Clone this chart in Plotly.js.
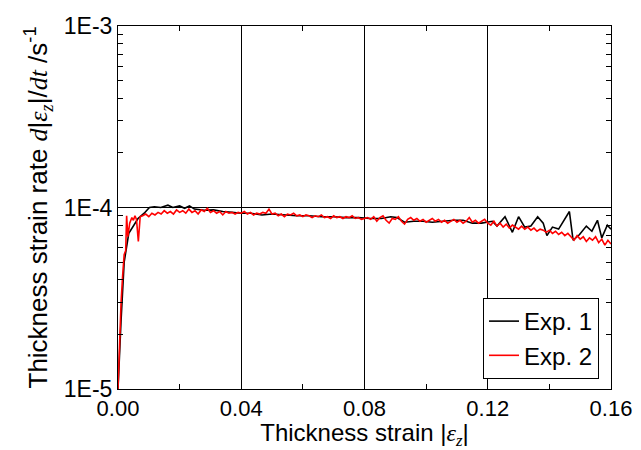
<!DOCTYPE html>
<html>
<head>
<meta charset="utf-8">
<script src="https://cdn.plot.ly/plotly-3.0.1.min.js"></script>
<style>html,body{margin:0;padding:0;background:#fff;}#chart{width:641px;height:450px;}</style>
</head>
<body>
<div id="chart"></div>
<script>
// Exp. 1 (black): thickness strain |eps_z| and strain rate (1/s)
var exp1Strain = [0, 0.0005, 0.001, 0.002, 0.0035, 0.0065, 0.0085, 0.0102, 0.0118, 0.0139, 0.0162, 0.0178, 0.0200, 0.0216, 0.0232, 0.0248,
  0.028, 0.031, 0.034, 0.037, 0.040, 0.043, 0.0467, 0.050, 0.054, 0.058, 0.062, 0.066, 0.070, 0.074, 0.078, 0.082, 0.0855, 0.0885, 0.0905,
  0.093, 0.096, 0.099, 0.102, 0.1055, 0.109, 0.112, 0.115, 0.118,
  0.1200, 0.1215, 0.1230, 0.1256, 0.1280, 0.1300, 0.1320, 0.1340, 0.1362, 0.1380, 0.1392, 0.1410, 0.1430, 0.1465, 0.1477, 0.1498,
  0.1520, 0.1538, 0.1556, 0.1570, 0.1588, 0.1600];
var exp1Rate = [1.0e-5, 1.6e-5, 2.4e-5, 5.0e-5, 7.2e-5, 8.7e-5, 9.3e-5, 1.00e-4, 1.01e-4, 1.00e-4, 1.03e-4, 1.00e-4, 1.02e-4, 0.99e-4, 1.02e-4, 0.98e-4,
  0.965e-4, 0.97e-4, 0.95e-4, 0.94e-4, 0.93e-4, 0.93e-4, 0.91e-4, 0.92e-4, 0.91e-4, 0.90e-4, 0.90e-4, 0.89e-4, 0.89e-4, 0.88e-4, 0.88e-4, 0.87e-4, 0.87e-4, 0.89e-4, 0.88e-4,
  0.83e-4, 0.84e-4, 0.84e-4, 0.83e-4, 0.84e-4, 0.85e-4, 0.85e-4, 0.82e-4, 0.82e-4,
  0.83e-4, 0.84e-4, 0.79e-4, 0.89e-4, 0.73e-4, 0.89e-4, 0.78e-4, 0.79e-4, 0.89e-4, 0.82e-4, 0.70e-4, 0.78e-4, 0.76e-4, 0.95e-4, 0.66e-4, 0.71e-4,
  0.79e-4, 0.74e-4, 0.85e-4, 0.68e-4, 0.80e-4, 0.76e-4];

// Exp. 2 (red)
var exp2Strain = [0, 0.0005, 0.001, 0.0015, 0.002, 0.0025, 0.0028, 0.0032, 0.0038, 0.0045, 0.005, 0.0055, 0.006, 0.0066, 0.0072,
  0.008, 0.009, 0.010, 0.011, 0.012, 0.013, 0.014, 0.015, 0.016, 0.017, 0.018, 0.019, 0.020, 0.021, 0.022, 0.023, 0.024, 0.025, 0.026, 0.027, 0.028, 0.029,
  0.030, 0.031, 0.032, 0.033, 0.034, 0.035, 0.036, 0.037, 0.038, 0.039, 0.040, 0.041, 0.042, 0.043, 0.044, 0.045, 0.046, 0.047, 0.048, 0.049,
  0.050, 0.051, 0.052, 0.053, 0.054, 0.055, 0.056, 0.057, 0.058, 0.059, 0.060, 0.061, 0.062, 0.063, 0.064, 0.065, 0.066, 0.067, 0.068, 0.069,
  0.070, 0.071, 0.072, 0.073, 0.074, 0.075, 0.076, 0.077, 0.078, 0.079, 0.080, 0.081, 0.082, 0.083, 0.084, 0.085, 0.086, 0.087, 0.088, 0.089,
  0.090, 0.091, 0.092, 0.093, 0.094, 0.095, 0.096, 0.097, 0.098, 0.099, 0.100, 0.101, 0.102, 0.103, 0.104, 0.105, 0.106, 0.107, 0.108, 0.109,
  0.110, 0.111, 0.112, 0.113, 0.114, 0.115, 0.116, 0.117, 0.118, 0.119, 0.120, 0.121, 0.122, 0.123, 0.124, 0.125, 0.126, 0.127, 0.128, 0.129,
  0.130, 0.131, 0.132, 0.133, 0.134, 0.135, 0.136, 0.137, 0.138, 0.139, 0.140, 0.141, 0.142, 0.143, 0.144, 0.145, 0.146, 0.147, 0.148, 0.149,
  0.150, 0.151, 0.152, 0.153, 0.154, 0.155, 0.156, 0.157, 0.158, 0.159, 0.160];
var exp2RateE5 = [1.0, 2.0, 3.0, 4.2, 5.5, 5.8, 9.0, 6.9, 8.2, 8.8, 8.5, 9.0, 8.6, 6.5, 8.9,
  9.0, 9.2, 8.9, 9.3, 9.1, 9.4, 9.2, 9.6, 9.3, 9.5, 9.2, 9.7, 9.4, 9.6, 9.3, 9.8, 9.4, 9.6, 9.2, 9.7, 9.5, 9.9,
  9.4, 9.6, 9.3, 9.5, 9.1, 9.5, 9.3, 9.4, 9.2, 9.4, 9.3, 9.5, 9.2, 9.4, 9.1, 9.3, 9.2, 9.4, 9.3, 9.8,
  9.2, 9.3, 9.0, 9.2, 8.9, 9.2, 9.1, 9.3, 9.0, 9.1, 8.9, 9.1, 9.0, 8.8, 9.0, 8.9, 9.1, 8.8, 8.9, 8.7,
  9.0, 8.8, 8.9, 8.7, 8.9, 8.8, 9.0, 8.7, 8.8, 8.6, 8.7, 8.8, 8.6, 8.9, 8.4, 8.8, 9.0, 8.5, 8.2, 8.7,
  8.6, 8.9, 8.4, 8.1, 8.6, 8.8, 8.5, 8.7, 8.4, 8.6, 8.3, 8.5, 8.7, 8.4, 8.6, 8.3, 8.5, 8.2, 8.4, 8.6,
  8.3, 8.5, 8.2, 8.4, 8.8, 8.3, 8.5, 8.2, 8.4, 8.6, 8.2, 8.0, 8.4, 7.9, 8.2, 7.8, 8.1, 7.7, 8.0, 7.8,
  7.6, 7.9, 7.6, 7.8, 7.5, 7.7, 7.4, 7.6, 7.5, 7.3, 7.5, 7.2, 7.4, 7.1, 7.3, 7.0, 7.2, 6.9, 6.6, 7.0,
  6.7, 6.9, 6.5, 6.8, 6.6, 6.9, 6.4, 6.7, 6.2, 6.6, 6.3];
var exp2Rate = exp2RateE5.map(function (v) { return v * 1e-5; });

var xTickVals = [0, 0.04, 0.08, 0.12, 0.16];
var xTickText = ['0.00', '0.04', '0.08', '0.12', '0.16'];
var yTickVals = [1e-5, 1e-4, 1e-3];
var yTickText = ['1E-5', '1E-4', '1E-3'];
var xMinorVals = [0.02, 0.06, 0.10, 0.14];
var yMinorVals = [2e-5, 3e-5, 4e-5, 5e-5, 6e-5, 7e-5, 8e-5, 9e-5, 2e-4, 3e-4, 4e-4, 5e-4, 6e-4, 7e-4, 8e-4, 9e-4];

var SANS = 'Liberation Sans, Arial, sans-serif';
var SERIF = 'font-family:Liberation Serif,Times New Roman,serif';

var traces = [
  {x: exp1Strain, y: exp1Rate, type: 'scatter', mode: 'lines', name: 'Exp. 1', line: {color: '#000000', width: 1.6}},
  {x: exp2Strain, y: exp2Rate, type: 'scatter', mode: 'lines', name: 'Exp. 2', line: {color: '#ff0000', width: 1.6}}
];

var layout = {
  width: 641, height: 450,
  margin: {l: 118, r: 30, t: 26, b: 61},
  paper_bgcolor: '#ffffff', plot_bgcolor: '#ffffff',
  font: {family: SANS, size: 23, color: '#000000'},
  showlegend: true,
  legend: {x: 0.9757, y: 0.0275, xanchor: 'right', yanchor: 'bottom', bgcolor: '#ffffff', bordercolor: '#000000', borderwidth: 1,
    font: {family: SANS, size: 24, color: '#000000'}, tracegroupgap: 0},
  xaxis: {
    range: [0, 0.16], tickmode: 'array', tickvals: xTickVals, ticktext: xTickText,
    ticks: 'inside', ticklen: 8, tickwidth: 1, tickcolor: '#000',
    showline: true, linecolor: '#000', linewidth: 1, mirror: 'allticks',
    showgrid: true, gridcolor: '#000', gridwidth: 1, zeroline: false,
    minor: {tickmode: 'array', tickvals: xMinorVals, ticks: 'inside', ticklen: 5, tickcolor: '#000', showgrid: false},
    tickfont: {family: SANS, size: 22},
    title: {text: 'Thickness strain |<span style="' + SERIF + '"><i>ε<sub>z</sub></i></span>|', font: {family: SANS, size: 24}, standoff: 4}
  },
  yaxis: {
    type: 'log', range: [-5, -3], tickmode: 'array', tickvals: yTickVals, ticktext: yTickText,
    ticks: 'inside', ticklen: 8, tickwidth: 1, tickcolor: '#000',
    showline: true, linecolor: '#000', linewidth: 1, mirror: 'allticks',
    showgrid: true, gridcolor: '#000', gridwidth: 1, zeroline: false,
    minor: {tickmode: 'array', tickvals: yMinorVals, ticks: 'inside', ticklen: 5, tickcolor: '#000', showgrid: false},
    tickfont: {family: SANS, size: 23},
    title: {text: 'Thickness strain rate <span style="' + SERIF + '"><i>d</i></span>|<span style="' + SERIF + '"><i>ε<sub>z</sub></i></span>|/<span style="' + SERIF + '"><i>dt</i></span> /s<sup>-1</sup>',
      font: {family: SANS, size: 26}, standoff: 8}
  }
};

Plotly.newPlot('chart', traces, layout, {displayModeBar: false, staticPlot: true});
</script>
</body>
</html>
